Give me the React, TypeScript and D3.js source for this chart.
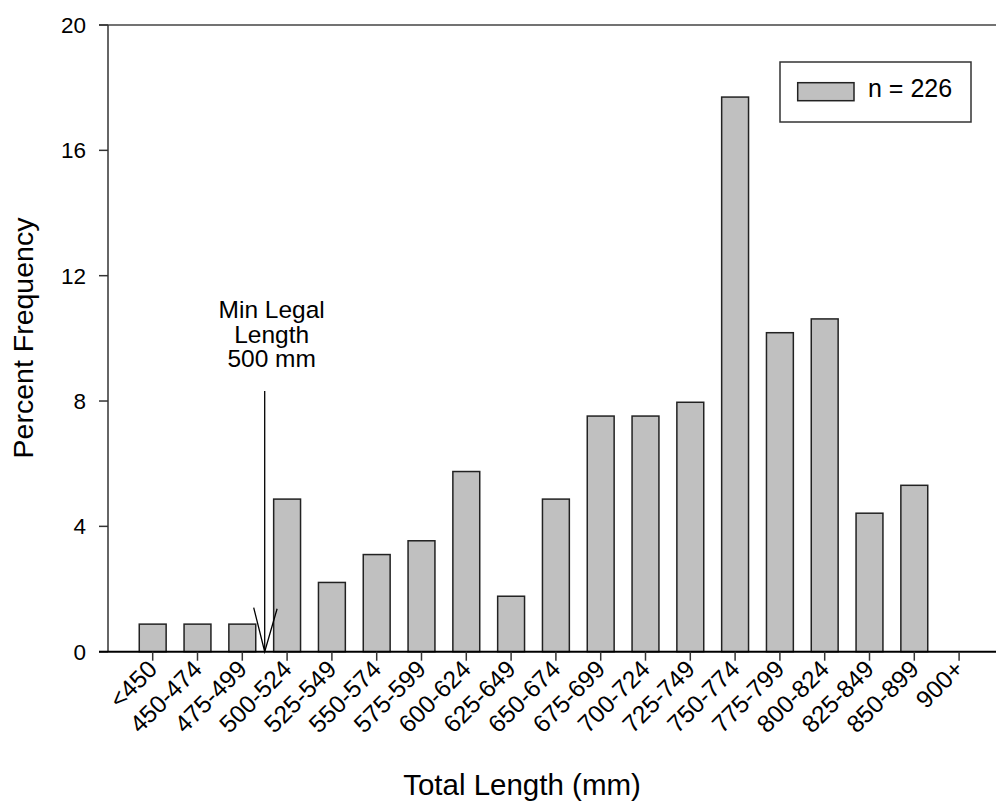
import React from "react";
import * as d3 from "d3";

const categories = [
  "<450", "450-474", "475-499", "500-524", "525-549", "550-574", "575-599",
  "600-624", "625-649", "650-674", "675-699", "700-724", "725-749", "750-774",
  "775-799", "800-824", "825-849", "850-899", "900+",
];
const percentValues = [
  0.88, 0.88, 0.88, 4.87, 2.21, 3.10, 3.54, 5.75, 1.77, 4.87, 7.52, 7.52, 7.96,
  17.70, 10.18, 10.62, 4.42, 5.31, 0,
];
const yTicks = [0, 4, 8, 12, 16, 20];
const legendLabel = "n = 226";
const annotationLines = ["Min Legal", "Length", "500 mm"];
const xTitle = "Total Length (mm)";
const yTitle = "Percent Frequency";

const W = 996;
const H = 801;
const FONT = "'Liberation Sans', Arial, Helvetica, sans-serif";

export default function App() {
  const left = 108;
  const right = 996;
  const x = d3
    .scaleBand<string>()
    .domain(categories)
    .range([130.3, 981.5])
    .paddingInner(0.4)
    .paddingOuter(0.2);
  const y = d3.scaleLinear().domain([0, 20]).range([651.7, 25]);
  const cx = (c: string) => (x(c) as number) + x.bandwidth() / 2;
  const y0 = y(0);
  const yTop = y(20);

  // minimum legal length marker: boundary between 475-499 and 500-524
  const mx = (cx(categories[2]) + cx(categories[3])) / 2;

  return (
    <svg
      width={W}
      height={H}
      style={{ position: "absolute", left: 0, top: 0, background: "#fff" }}
      fontFamily={FONT}
    >
      <rect x={0} y={0} width={W} height={H} fill="#fff" />
      {/* top frame line */}
      <line x1={99} x2={right} y1={yTop} y2={yTop} stroke="#444" strokeWidth={1.5} />
      {/* left axis */}
      <line x1={left} x2={left} y1={yTop} y2={y0} stroke="#333" strokeWidth={1.5} />
      {yTicks.map((t) => (
        <g key={t}>
          <line x1={99} x2={left} y1={y(t)} y2={y(t)} stroke="#333" strokeWidth={1.5} />
          <text
            x={86}
            y={y(t)}
            dy="0.35em"
            textAnchor="end"
            fontSize={22.5}
            fill="#000"
          >
            {t}
          </text>
        </g>
      ))}
      {/* bars */}
      {categories.map((c, i) =>
        percentValues[i] > 0 ? (
          <rect
            key={c}
            x={x(c)}
            y={y(percentValues[i])}
            width={x.bandwidth()}
            height={y0 - y(percentValues[i])}
            fill="#c0c0c0"
            stroke="#222"
            strokeWidth={1.5}
          />
        ) : null
      )}
      {/* bottom axis */}
      <line x1={99} x2={right} y1={y0} y2={y0} stroke="#000" strokeWidth={2} />
      {categories.map((c) => (
        <g key={c}>
          <line x1={cx(c)} x2={cx(c)} y1={y0} y2={y0 + 9} stroke="#333" strokeWidth={1.5} />
          <text
            transform={`translate(${cx(c) + 6},${y0 + 19}) rotate(-45)`}
            textAnchor="end"
            fontSize={24.5}
            fill="#000"
          >
            {c}
          </text>
        </g>
      ))}
      {/* annotation */}
      <line x1={mx} x2={mx} y1={391} y2={y0} stroke="#000" strokeWidth={1.3} />
      <polyline
        points={`${mx - 11},${y0 - 44} ${mx},${y0} ${mx + 12.4},${y0 - 43}`}
        fill="none"
        stroke="#000"
        strokeWidth={1.3}
      />
      {annotationLines.map((l, i) => (
        <text
          key={l}
          x={mx + 7}
          y={318 + i * 24.5}
          textAnchor="middle"
          fontSize={24.5}
          fill="#000"
        >
          {l}
        </text>
      ))}
      {/* legend */}
      <rect x={780} y={62} width={191} height={60} fill="#fff" stroke="#333" strokeWidth={1.5} />
      <rect x={797.7} y={82.7} width={56.3} height={18} fill="#c0c0c0" stroke="#222" strokeWidth={1.5} />
      <text x={868} y={97.3} fontSize={25} fill="#000">
        {legendLabel}
      </text>
      {/* axis titles */}
      <text x={522} y={795} textAnchor="middle" fontSize={29.5} fill="#000">
        {xTitle}
      </text>
      <text
        transform={`translate(33,338) rotate(-90)`}
        textAnchor="middle"
        fontSize={28.5}
        fill="#000"
      >
        {yTitle}
      </text>
    </svg>
  );
}
